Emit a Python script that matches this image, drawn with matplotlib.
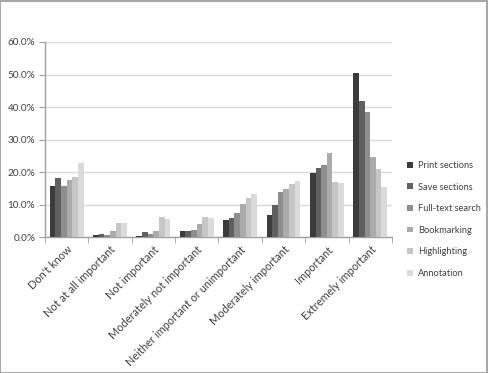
import matplotlib
matplotlib.use("Agg")
import matplotlib.pyplot as plt
import numpy as np
from matplotlib.ticker import PercentFormatter, FixedLocator
from matplotlib.patches import Rectangle

categories = ["Don't know", "Not at all important", "Not important",
              "Moderately not important", "Neither important or unimportant",
              "Moderately important", "Important", "Extremely important"]

series_names = ["Print sections", "Save sections", "Full-text search",
                "Bookmarking", "Highlighting", "Annotation"]

print_sections = [15.8, 0.5, 0.3, 2.0, 5.2, 6.8, 19.6, 50.6]
save_sections = [18.1, 1.0, 1.5, 1.8, 5.9, 9.7, 21.1, 41.8]
fulltext_search = [15.6, 0.5, 1.0, 2.2, 7.3, 13.7, 22.2, 38.5]
bookmarking = [17.5, 2.0, 2.0, 4.0, 10.1, 14.9, 25.9, 24.5]
highlighting = [18.4, 4.3, 6.1, 6.1, 11.9, 16.3, 17.0, 20.9]
annotation = [22.9, 4.3, 5.4, 5.8, 13.1, 17.3, 16.6, 15.5]

colors = ["#3b3b3b", "#606060", "#8e8e8e", "#ababab", "#c6c6c6", "#dadada"]

plt.rcParams["font.family"] = ["Lato", "DejaVu Sans"]

fig = plt.figure(figsize=(4.88, 3.73), dpi=100)
ax = fig.add_axes([0.0922, 0.3646, 0.7108, 0.5228])

all_series = [print_sections, save_sections, fulltext_search,
              bookmarking, highlighting, annotation]
x = np.arange(len(categories))
width = 0.13
for i, (name, vals) in enumerate(zip(series_names, all_series)):
    ax.bar(x + (i - 2.5) * width, np.array(vals) / 100, width,
           color=colors[i], label=name, zorder=3, linewidth=0)

ax.set_ylim(0, 0.6)
ax.set_xlim(-0.5, len(categories) - 0.5)
ax.set_yticks(np.arange(0, 0.61, 0.1))
ax.yaxis.set_major_formatter(PercentFormatter(1.0, decimals=1))
ax.grid(axis="y", color="#d9d9d9", linewidth=1, zorder=0)

ax.set_xticks(x)
ax.set_xticklabels(categories, rotation=45, ha="right", va="top",
                   rotation_mode="anchor", fontsize=7.9, color="#404040")
ax.xaxis.set_minor_locator(FixedLocator(np.arange(-0.5, len(categories), 1)))
ax.tick_params(axis="x", which="major", length=0, pad=5)
ax.tick_params(axis="x", which="minor", length=4, color="#a0a0a0", direction="out")
ax.tick_params(axis="y", length=4, color="#a0a0a0", labelsize=7.2,
               labelcolor="#404040", pad=3)

for side in ["top", "right"]:
    ax.spines[side].set_visible(False)
for side in ["left", "bottom"]:
    ax.spines[side].set_color("#a0a0a0")
    ax.spines[side].set_linewidth(1)

leg = ax.legend(loc="center left", bbox_to_anchor=(1.02, 0.09),
                frameon=False, fontsize=6.7, handlelength=0.6,
                handleheight=0.6, handletextpad=0.6, labelspacing=1.35,
                labelcolor="#404040")

fig.patches.append(Rectangle((0.001, 0.001), 0.997, 0.997, transform=fig.transFigure,
                             fill=False, edgecolor="#a8a8a8", linewidth=1.5))

fig.savefig("out.png", dpi=100)
